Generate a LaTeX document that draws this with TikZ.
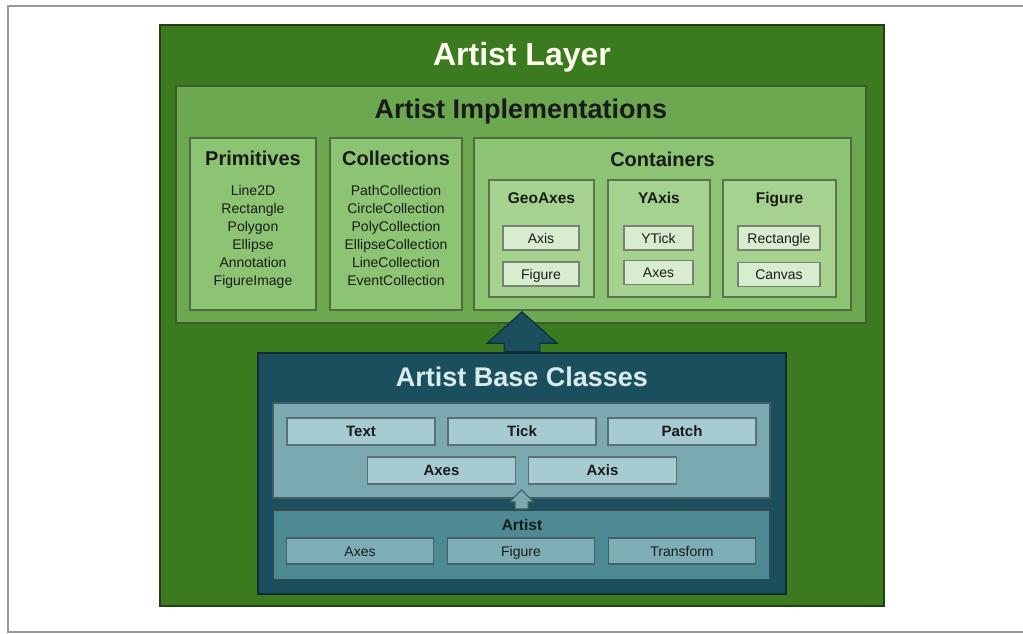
\documentclass[tikz,border=0pt]{standalone}
\usepackage{fontspec}
\setmainfont{Liberation Sans}
\usepackage{xcolor}
\usepackage{tikz}
\usetikzlibrary{shapes,arrows,positioning}

\definecolor{layergreen}{HTML}{3B7A1F}
\definecolor{implgreen}{HTML}{6BA84F}
\definecolor{groupgreen}{HTML}{8DC473}
\definecolor{subgreen}{HTML}{A5D28E}
\definecolor{chipgreen}{HTML}{D8ECCF}
\definecolor{basecyan}{HTML}{1B4F5E}
\definecolor{uppercyan}{HTML}{7AA9B2}
\definecolor{uppercell}{HTML}{A6CCD2}
\definecolor{lowercyan}{HTML}{4E8A94}
\definecolor{lowercell}{HTML}{7DAEB6}
\definecolor{titlecyan}{HTML}{D9ECEC}
\definecolor{inktext}{HTML}{1A1A1A}

\begin{document}
\begin{tikzpicture}
  [
    x=1pt, y=-1pt,
    Box/.style={rectangle, draw=#1!55!black, fill=#1, line width=1.2pt, inner sep=0pt},
    BigTitle/.style={font=\fontsize{32}{36}\selectfont\bfseries, text=white!94!yellow, text height=23pt, text depth=0pt},
    Heading/.style={font=\fontsize{27}{30}\selectfont\bfseries, text=inktext, text height=19.3pt, text depth=0pt},
    SubHeading/.style={font=\fontsize{20}{24}\selectfont\bfseries, text=inktext, text height=14.3pt, text depth=0pt},
    SmallHeading/.style={font=\fontsize{15.5}{18}\selectfont\bfseries, text=inktext, text height=11.1pt, text depth=0pt},
    Item/.style={font=\fontsize{14}{18}\selectfont, text=inktext, inner sep=0pt, text height=10pt, text depth=0pt},
    GreenChip/.style={Box=chipgreen, Item, minimum height=24},
    UpperCell/.style={Box=uppercell, font=\fontsize{15}{18}\selectfont\bfseries, text=inktext, text height=10.7pt, text depth=0pt,
      minimum width=148, minimum height=27},
    LowerCell/.style={Box=lowercell, Item, minimum width=147, minimum height=26},
    BigArrow/.style={single arrow, draw=basecyan!60!black, fill=basecyan, line width=1.2pt, rotate=90, anchor=tail,
      inner xsep=0pt, inner ysep=17.25pt, minimum height=40, single arrow head extend=17pt, single arrow tip angle=96},
    SmallArrow/.style={single arrow, draw=uppercyan!55!black, fill=uppercyan, line width=1pt, rotate=90, anchor=tail,
      inner xsep=0pt, inner ysep=6pt, minimum height=19, single arrow head extend=5.5pt, single arrow tip angle=90}
  ]
  \useasboundingbox (0, 0) rectangle (1023, 634);
  \draw[gray!80, line width=1.5pt] (1023, 6) -- (8, 6) -- (8, 632) -- (1023, 632);

  % Artist layer
  \node[Box=layergreen, minimum width=724, minimum height=581] (layer) at(522, 315.5) {};
  \node[BigTitle] (layertitle) at(522, 54) {Artist Layer};

  % Implementations
  \node[Box=implgreen, minimum width=690, minimum height=237] (impl) at(521, 204.5) {};
  \node[Heading] (impltitle) at(521, 109) {Artist Implementations};

  \node[Box=groupgreen, minimum width=126, minimum height=172] (prim) at(253, 224) {};
  \node[SubHeading] (primtitle) at(253, 158) {Primitives};
  \foreach \t [count=\i] in {Line2D, Rectangle, Polygon, Ellipse, Annotation, FigureImage}
    \node[Item] (prim\i) at(253, 172+18*\i) {\t};

  \node[Box=groupgreen, minimum width=132, minimum height=172] (coll) at(396, 224) {};
  \node[SubHeading] (colltitle) at(396, 158) {Collections};
  \foreach \t [count=\i] in {PathCollection, CircleCollection, PolyCollection, EllipseCollection, LineCollection, EventCollection}
    \node[Item] (coll\i) at(396, 172+18*\i) {\t};

  \node[Box=groupgreen, minimum width=377, minimum height=172] (cont) at(662.5, 224) {};
  \node[SubHeading] (conttitle) at(662.5, 159) {Containers};

  \node[Box=subgreen, minimum width=105, minimum height=117] (geo) at(541.5, 238.5) {};
  \node[SmallHeading] (geotitle) at(541.5, 198) {GeoAxes};
  \node[GreenChip, minimum width=76] (geoaxis) at(541, 238) {Axis};
  \node[GreenChip, minimum width=76] (geofig) at(541, 274) {Figure};

  \node[Box=subgreen, minimum width=102, minimum height=117] (yaxis) at(659, 238.5) {};
  \node[SmallHeading] (yaxistitle) at(659, 198) {YAxis};
  \node[GreenChip, minimum width=69] (ytick) at(658.5, 238) {YTick};
  \node[GreenChip, minimum width=69] (yaxes) at(658.5, 272.5) {Axes};

  \node[Box=subgreen, minimum width=113, minimum height=117] (fig) at(779.5, 238.5) {};
  \node[SmallHeading] (figtitle) at(779.5, 198) {Figure};
  \node[GreenChip, minimum width=82] (figrect) at(779, 238) {Rectangle};
  \node[GreenChip, minimum width=82] (figcanvas) at(779, 274.5) {Canvas};

  % Base classes
  \node[Box=basecyan, minimum width=528, minimum height=241] (base) at(522, 473.5) {};
  \node[Heading, text=titlecyan] (basetitle) at(522, 377) {Artist Base Classes};

  \node[Box=uppercyan, minimum width=497, minimum height=95] (upper) at(521.5, 450.5) {};
  \node[UpperCell] (text) at(361, 431.5) {Text};
  \node[UpperCell] (tick) at(522, 431.5) {Tick};
  \node[UpperCell] (patch) at(682, 431.5) {Patch};
  \node[UpperCell] (axes) at(441.5, 470.5) {Axes};
  \node[UpperCell] (axis) at(602.5, 470.5) {Axis};

  \node[Box=lowercyan, minimum width=497, minimum height=70] (lower) at(521.5, 545) {};
  \node[SmallHeading] (artist) at(522, 525) {Artist};
  \node[LowerCell] (artaxes) at(360, 551) {Axes};
  \node[LowerCell] (artfig) at(521, 551) {Figure};
  \node[LowerCell] (arttrans) at(682, 551) {Transform};

  % Arrows
  \node[BigArrow] (up) at(base.north) {};
  \node[SmallArrow] (inherit) at(lower.north) {};

\end{tikzpicture}
\end{document}
